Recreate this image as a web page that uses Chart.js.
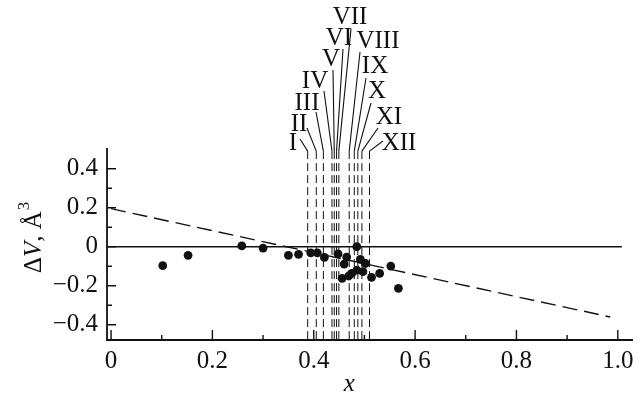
<!DOCTYPE html>
<html>
<head>
<meta charset="utf-8">
<script src="https://cdn.jsdelivr.net/npm/chart.js@4/dist/chart.umd.min.js"></script>
<style>
  html, body { margin: 0; padding: 0; background: #fff; }
  #wrap { width: 642px; height: 400px; }
</style>
</head>
<body>
<div id="wrap"><canvas id="dvChart" width="642" height="400"></canvas></div>
<script>
// measured points: composition x vs volume deviation dV (A^3)
const pointX = [0.102, 0.152, 0.258, 0.300, 0.350, 0.370, 0.394, 0.407, 0.421, 0.448, 0.456, 0.460,
                0.465, 0.469, 0.475, 0.485, 0.485, 0.492, 0.497, 0.502, 0.514, 0.530, 0.552, 0.567];
const pointY = [-0.097, -0.044, 0.004, -0.007, -0.044, -0.039, -0.031, -0.031, -0.055, -0.037, -0.162, -0.089,
                -0.053, -0.150, -0.137, 0.000, -0.120, -0.065, -0.128, -0.086, -0.157, -0.137, -0.099, -0.213];

// linear fit (dashed)
const trendX = [0.0, 0.985];
const trendY = [0.195, -0.360];

// zero reference line
const zeroX = [-0.008, 1.008];
const zeroY = [0, 0];

// compositions I..XII marked by dashed verticals
const markNames = ['I', 'II', 'III', 'IV', 'V', 'VI', 'VII', 'VIII', 'IX', 'X', 'XI', 'XII'];
const markX = [0.388, 0.405, 0.419, 0.436, 0.4405, 0.445, 0.4495, 0.470, 0.480, 0.487, 0.495, 0.510];
const markTop = 0.49;

// axis ticks
const xTicks = [0, 0.2, 0.4, 0.6, 0.8, 1.0];
const xTickLabels = ['0', '0.2', '0.4', '0.6', '0.8', '1.0'];
const xMinor = [0.1, 0.3, 0.5, 0.7, 0.9];
const yTicks = [-0.4, -0.2, 0, 0.2, 0.4];
const yTickLabels = ['\u22120.4', '\u22120.2', '0', '0.2', '0.4'];
const yMinor = [-0.3, -0.1, 0.1, 0.3];

const X_MIN = -0.008, X_MAX = 1.03;
const Y_MIN = -0.478, Y_MAX = 0.506;

// where each roman label sits (px, text centre) and where its leader starts
const labelPos = [
  [293, 143], [299, 124], [307, 103], [315, 81], [331, 59], [339, 38],
  [350, 17], [378, 41], [375, 66], [377, 91], [389, 117], [399, 143]
];
const leaderStart = [
  [300, 139], [307, 128], [316, 112], [324, 91], [333, 70], [343, 49],
  [351, 29], [360, 52], [366, 78], [371, 103], [378, 128], [383, 141]
];

const FONT = '"Liberation Serif", serif';

const pts = pointX.map((x, i) => ({ x: x, y: pointY[i] }));
const pair = (xs, ys) => xs.map((x, i) => ({ x: x, y: ys[i] }));

// dashes start at the top end of every marker line
const markSets = markX.map(x => ({
  type: 'line',
  data: [{ x: x, y: markTop }, { x: x, y: Y_MIN }],
  borderColor: '#111',
  borderWidth: 1.0,
  borderDash: [8, 4],
  pointRadius: 0,
  order: 3
}));

// axes, ticks, labels and roman numerals
const frame = {
  id: 'frame',
  afterDraw(chart) {
    const c = chart.ctx, xs = chart.scales.x, ys = chart.scales.y, a = chart.chartArea;
    c.save();
    c.strokeStyle = '#111';
    c.fillStyle = '#111';
    c.lineWidth = 1.8;
    c.beginPath();
    c.moveTo(a.left, a.top);
    c.lineTo(a.left, a.bottom);
    c.lineTo(a.right, a.bottom);
    c.stroke();

    c.lineWidth = 1.4;
    c.beginPath();
    xTicks.forEach(v => { const p = xs.getPixelForValue(v); c.moveTo(p, a.bottom); c.lineTo(p, a.bottom - 10); });
    xMinor.forEach(v => { const p = xs.getPixelForValue(v); c.moveTo(p, a.bottom); c.lineTo(p, a.bottom - 5); });
    yTicks.forEach(v => { const p = ys.getPixelForValue(v); c.moveTo(a.left, p); c.lineTo(a.left + 9, p); });
    yMinor.forEach(v => { const p = ys.getPixelForValue(v); c.moveTo(a.left, p); c.lineTo(a.left + 5, p); });
    c.stroke();

    c.font = '25px ' + FONT;
    c.textAlign = 'center';
    c.textBaseline = 'middle';
    xTicks.forEach((v, i) => c.fillText(xTickLabels[i], xs.getPixelForValue(v), a.bottom + 21));
    c.textAlign = 'right';
    yTicks.forEach((v, i) => c.fillText(yTickLabels[i], a.left - 9, ys.getPixelForValue(v)));

    // axis titles
    c.textAlign = 'center';
    c.font = 'italic 25px ' + FONT;
    c.fillText('x', xs.getPixelForValue(0.47), a.bottom + 44);

    c.save();
    c.translate(34, ys.getPixelForValue(0.045));
    c.rotate(-Math.PI / 2);
    c.textAlign = 'left';
    const parts = [['\u0394', '25px '], ['V', 'italic 25px '], [', \u00c5', '25px ']];
    let w = 0;
    parts.forEach(p => { c.font = p[1] + FONT; w += c.measureText(p[0]).width; });
    c.font = '17px ' + FONT;
    w += c.measureText('3').width;
    let cx = -w / 2;
    parts.forEach(p => { c.font = p[1] + FONT; c.fillText(p[0], cx, 0); cx += c.measureText(p[0]).width; });
    c.font = '17px ' + FONT;
    c.fillText('3', cx + 1, -9);
    c.restore();

    // roman numerals with leaders to the dashed lines
    c.lineWidth = 1.1;
    c.beginPath();
    markX.forEach((x, i) => {
      c.moveTo(leaderStart[i][0], leaderStart[i][1]);
      c.lineTo(xs.getPixelForValue(x), ys.getPixelForValue(markTop));
    });
    c.stroke();
    c.font = '25px ' + FONT;
    c.textAlign = 'center';
    markNames.forEach((n, i) => c.fillText(n, labelPos[i][0], labelPos[i][1]));
    c.restore();
  }
};

new Chart(document.getElementById('dvChart'), {
  type: 'scatter',
  data: {
    datasets: [
      { data: pts, pointRadius: 4.4, pointBackgroundColor: '#111', pointBorderWidth: 0, order: 0 },
      { type: 'line', data: pair(zeroX, zeroY), borderColor: '#111', borderWidth: 1.4, pointRadius: 0, order: 2 },
      { type: 'line', data: pair(trendX, trendY), borderColor: '#111', borderWidth: 1.4,
        borderDash: [15, 7], pointRadius: 0, order: 1 },
      ...markSets
    ]
  },
  options: {
    responsive: false,
    animation: false,
    layout: { padding: { left: 107, right: 9, top: 148, bottom: 60 } },
    plugins: { legend: { display: false }, tooltip: { enabled: false } },
    scales: {
      x: { type: 'linear', display: false, min: X_MIN, max: X_MAX },
      y: { type: 'linear', display: false, min: Y_MIN, max: Y_MAX }
    }
  },
  plugins: [frame]
});
</script>
</body>
</html>
